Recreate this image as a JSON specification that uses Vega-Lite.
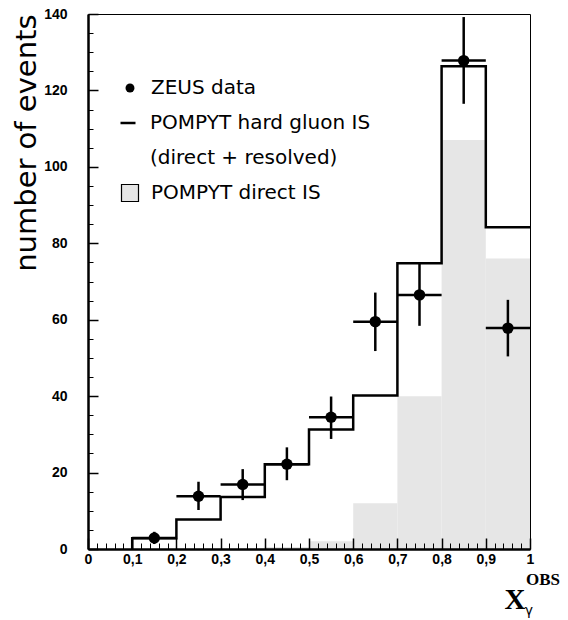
{
  "$schema": "https://vega.github.io/schema/vega-lite/v6.json",
  "width": 442,
  "height": 535,
  "autosize": "none",
  "padding": {"left": 88, "top": 14, "right": 38, "bottom": 71},
  "background": "white",
  "config": {
    "view": {"stroke": "black", "strokeWidth": 1},
    "axis": {"labelColor": "black", "titleColor": "black", "domainColor": "black", "tickColor": "black", "grid": false}
  },
  "datasets": {
    "direct": [
      {"lo": 0.4, "hi": 0.5, "direct": 0.5},
      {"lo": 0.5, "hi": 0.6, "direct": 2},
      {"lo": 0.6, "hi": 0.7, "direct": 12},
      {"lo": 0.7, "hi": 0.8, "direct": 40},
      {"lo": 0.8, "hi": 0.9, "direct": 107},
      {"lo": 0.9, "hi": 1.0, "direct": 76}
    ],
    "hist": [
      {"i": 0, "x": 0.1, "y": 0},
      {"i": 1, "x": 0.1, "y": 2.8},
      {"i": 2, "x": 0.2, "y": 7.7},
      {"i": 3, "x": 0.3, "y": 13.6},
      {"i": 4, "x": 0.4, "y": 22.2},
      {"i": 5, "x": 0.5, "y": 31.3},
      {"i": 6, "x": 0.6, "y": 40.2},
      {"i": 7, "x": 0.7, "y": 74.8},
      {"i": 8, "x": 0.8, "y": 126.3},
      {"i": 9, "x": 0.9, "y": 84.2},
      {"i": 10, "x": 1.0, "y": 84.2}
    ],
    "zeus": [
      {"x": 0.15, "xlo": 0.1, "xhi": 0.2, "y": 2.9, "ylo": 1.3, "yhi": 4.5},
      {"x": 0.25, "xlo": 0.2, "xhi": 0.3, "y": 13.8, "ylo": 10.2, "yhi": 17.6},
      {"x": 0.35, "xlo": 0.3, "xhi": 0.4, "y": 16.9, "ylo": 12.8, "yhi": 20.9},
      {"x": 0.45, "xlo": 0.4, "xhi": 0.5, "y": 22.2, "ylo": 18.0, "yhi": 26.6},
      {"x": 0.55, "xlo": 0.5, "xhi": 0.6, "y": 34.5, "ylo": 28.8, "yhi": 39.9},
      {"x": 0.65, "xlo": 0.6, "xhi": 0.7, "y": 59.5, "ylo": 51.8, "yhi": 67.1},
      {"x": 0.75, "xlo": 0.7, "xhi": 0.8, "y": 66.5, "ylo": 58.4, "yhi": 74.8},
      {"x": 0.85, "xlo": 0.8, "xhi": 0.9, "y": 127.8, "ylo": 116.5, "yhi": 139.2},
      {"x": 0.95, "xlo": 0.9, "xhi": 1.0, "y": 57.8, "ylo": 50.4, "yhi": 65.2}
    ]
  },
  "resolve": {"axis": {"x": "independent", "y": "independent"}},
  "layer": [
    {
      "data": {"name": "direct"},
      "mark": {"type": "rect", "stroke": null},
      "encoding": {
        "x": {
          "field": "lo", "type": "quantitative",
          "scale": {"domain": [0, 1], "nice": false, "zero": false},
          "axis": {
            "orient": "bottom", "offset": -11, "domain": false, "zindex": 2,
            "values": [0,0.1,0.2,0.3,0.4,0.5,0.6,0.7,0.8,0.9,1],
            "labelExpr": "replace(format(datum.value, '~g'), '.', ',')",
            "ticks": true, "tickSize": 11, "tickWidth": 1.5, "tickColor": "black", "tickOpacity": 1,
            "labelFont": "Liberation Sans", "labelFontWeight": "bold", "labelFontSize": 14,
            "labelPadding": 3, "labelOverlap": false, "labelFlush": false,
            "title": "X", "titleFont": "Liberation Serif", "titleFontWeight": "bold", "titleFontSize": 29,
            "titleAnchor": "end", "titleAlign": "right", "titleBaseline": "alphabetic", "titleX": 437, "titleY": 70
          }
        },
        "x2": {"field": "hi"},
        "y": {
          "field": "direct", "type": "quantitative",
          "scale": {"domain": [0, 140], "nice": false},
          "axis": {
            "orient": "left", "offset": -10, "domain": false, "zindex": 2,
            "values": [0,20,40,60,80,100,120,140],
            "ticks": true, "tickSize": 10, "tickWidth": 1.5, "tickColor": "black", "tickOpacity": 1,
            "labelFont": "Liberation Sans", "labelFontWeight": "bold", "labelFontSize": 14,
            "labelPadding": 21, "labelOverlap": false, "labelFlush": false,
            "title": "number of events", "titleFont": "DejaVu Sans", "titleFontWeight": "normal", "titleFontSize": 29,
            "titleAnchor": "end", "titlePadding": 2
          }
        },
        "y2": {"datum": 0},
        "fill": {
          "datum": "POMPYT direct IS", "type": "nominal",
          "scale": {"domain": ["POMPYT direct IS"], "range": ["#e6e6e6"]},
          "legend": {
            "orient": "none", "legendX": 32, "legendY": 169, "title": null, "padding": 0,
            "labelFont": "DejaVu Sans", "labelFontSize": 20, "labelColor": "black", "labelLimit": 0,
            "symbolType": "square", "symbolSize": 289, "symbolStrokeColor": "black", "symbolStrokeWidth": 1.2,
            "labelOffset": 11
          }
        }
      }
    },
    {
      "data": {"name": "hist"},
      "mark": {"type": "line", "interpolate": "step-after", "strokeWidth": 2.5},
      "encoding": {
        "x": {
          "field": "x", "type": "quantitative",
          "axis": {
            "orient": "bottom", "offset": -6, "domain": false, "zindex": 2,
            "values": [0,0.02,0.04,0.06,0.08,0.12,0.14,0.16,0.18,0.22,0.24,0.26,0.28,0.32,0.34,0.36,0.38,0.42,0.44,0.46,0.48,0.52,0.54,0.56,0.58,0.62,0.64,0.66,0.68,0.72,0.74,0.76,0.78,0.82,0.84,0.86,0.88,0.92,0.94,0.96,0.98],
            "ticks": true, "tickSize": 6, "tickColor": "black", "tickOpacity": 1, "labels": false, "title": null
          }
        },
        "y": {
          "field": "y", "type": "quantitative",
          "axis": {
            "orient": "left", "offset": -5, "domain": false, "zindex": 2,
            "values": [5,10,15,25,30,35,45,50,55,65,70,75,85,90,95,105,110,115,125,130,135],
            "ticks": true, "tickSize": 5, "tickColor": "black", "tickOpacity": 1, "labels": false, "title": null
          }
        },
        "order": {"field": "i", "type": "quantitative"},
        "stroke": {
          "datum": "POMPYT hard gluon IS", "type": "nominal",
          "scale": {"domain": ["POMPYT hard gluon IS", "(direct + resolved)"], "range": ["black", "transparent"]},
          "legend": {
            "orient": "none", "legendX": 30, "legendY": 99, "title": null, "padding": 0,
            "labelFont": "DejaVu Sans", "labelFontSize": 20, "labelColor": "black", "labelLimit": 0,
            "symbolType": "stroke", "symbolSize": 225, "symbolStrokeWidth": 2.5,
            "rowPadding": 15, "labelOffset": 12
          }
        }
      }
    },
    {
      "data": {"name": "zeus"},
      "mark": {"type": "rule", "color": "black", "strokeWidth": 2.5},
      "encoding": {
        "x": {"field": "x", "type": "quantitative", "axis": {"orient": "bottom", "domain": true, "domainWidth": 2.5, "ticks": false, "labels": false, "title": null, "zindex": 2}},
        "y": {"field": "ylo", "type": "quantitative", "axis": {"orient": "left", "domain": true, "domainWidth": 2.5, "ticks": false, "labels": false, "title": null, "zindex": 2}},
        "y2": {"field": "yhi"}
      }
    },
    {
      "data": {"name": "zeus"},
      "mark": {"type": "rule", "color": "black", "strokeWidth": 2.5},
      "encoding": {
        "x": {"field": "xlo", "type": "quantitative", "axis": null},
        "x2": {"field": "xhi"},
        "y": {"field": "y", "type": "quantitative", "axis": null}
      }
    },
    {
      "data": {"name": "zeus"},
      "mark": {"type": "point", "filled": true, "size": 130, "color": "black", "opacity": 1},
      "encoding": {
        "x": {"field": "x", "type": "quantitative", "axis": null},
        "y": {"field": "y", "type": "quantitative", "axis": null},
        "shape": {
          "datum": "ZEUS data", "type": "nominal",
          "scale": {"domain": ["ZEUS data"], "range": ["circle"]},
          "legend": {
            "orient": "none", "legendX": 32, "legendY": 64, "title": null, "padding": 0,
            "labelFont": "DejaVu Sans", "labelFontSize": 20, "labelColor": "black", "labelLimit": 0,
            "symbolSize": 80, "symbolFillColor": "black", "symbolStrokeWidth": 0,
            "labelOffset": 11
          }
        }
      }
    },
    {
      "data": {"values": [{}]},
      "mark": {"type": "text", "text": "OBS", "font": "Liberation Serif", "fontWeight": "bold", "fontSize": 17, "align": "left", "baseline": "alphabetic", "dx": -4, "dy": 36, "color": "black"},
      "encoding": {
        "x": {"datum": 1, "type": "quantitative", "axis": null},
        "y": {"datum": 0, "type": "quantitative", "axis": null}
      }
    },
    {
      "data": {"values": [{}]},
      "mark": {"type": "text", "text": "γ", "font": "DejaVu Sans", "fontSize": 14, "align": "center", "baseline": "alphabetic", "dx": -1, "dy": 66, "color": "black"},
      "encoding": {
        "x": {"datum": 1, "type": "quantitative", "axis": null},
        "y": {"datum": 0, "type": "quantitative", "axis": null}
      }
    }
  ]
}
